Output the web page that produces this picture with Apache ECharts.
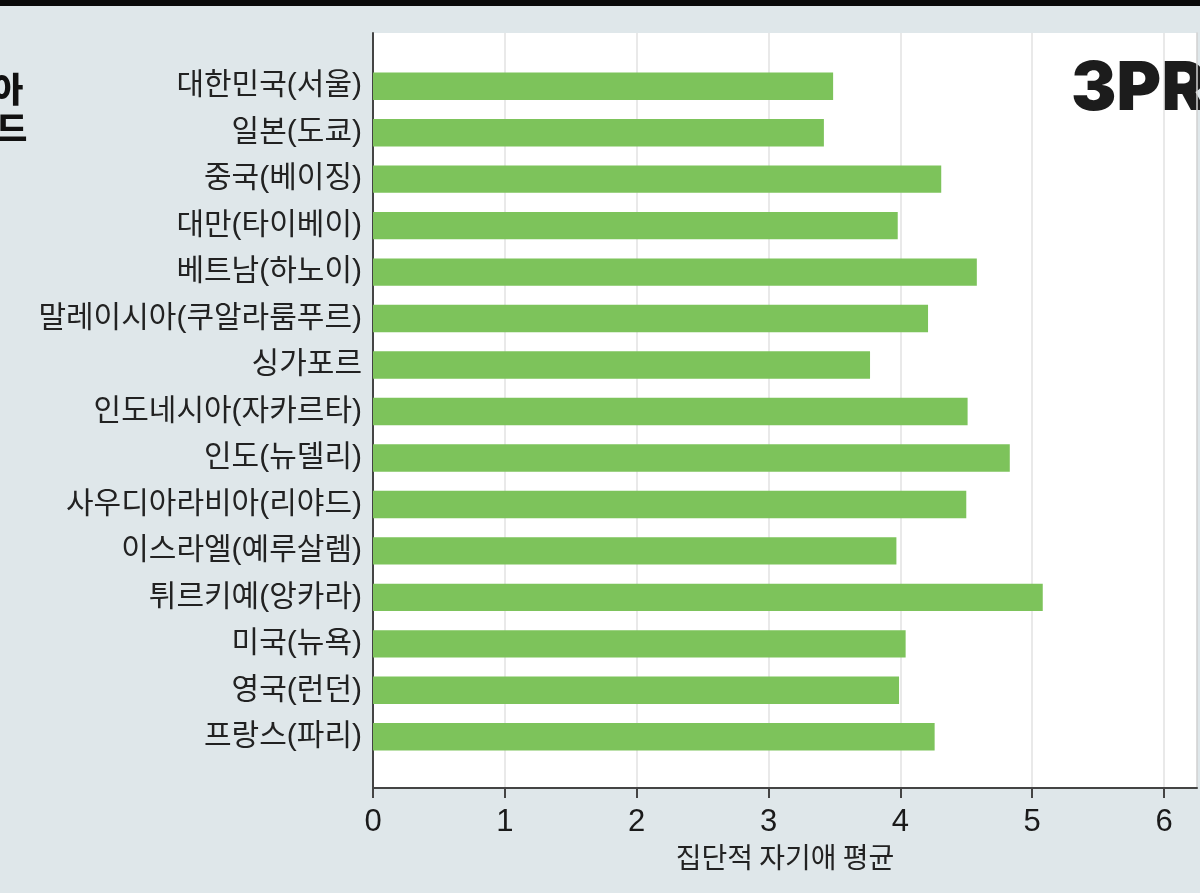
<!DOCTYPE html>
<html>
<head>
<meta charset="utf-8">
<script src="https://cdn.jsdelivr.net/npm/echarts@6/dist/echarts.min.js"></script>
<style>
html,body{margin:0;padding:0;background:#dfe7ea;}
#chart{width:1200px;height:893px;}
</style>
</head>
<body>
<div id="chart"></div>
<script>
const categories = [
  '대한민국(서울)', '일본(도쿄)', '중국(베이징)', '대만(타이베이)', '베트남(하노이)',
  '말레이시아(쿠알라룸푸르)', '싱가포르', '인도네시아(자카르타)', '인도(뉴델리)',
  '사우디아라비아(리야드)', '이스라엘(예루살렘)', '튀르키예(앙카라)', '미국(뉴욕)',
  '영국(런던)', '프랑스(파리)'
];
const values = [3.49, 3.42, 4.31, 3.98, 4.58, 4.21, 3.77, 4.51, 4.83, 4.50, 3.97, 5.08, 4.04, 3.99, 4.26];
const xTicks = [0, 1, 2, 3, 4, 5, 6];
const xAxisName = '집단적 자기애 평균';
const logoText = '3PRO';

const chart = echarts.init(document.getElementById('chart'), null, {renderer: 'canvas'});
const XMAX = 6.25;
const option = {
  backgroundColor: '#dfe7ea',
  animation: false,
  grid: [
    {left: 373, right: 3, top: 33, bottom: 105, show: true, backgroundColor: '#ffffff', borderWidth: 0},
    {left: 373, right: 3, top: 63, bottom: 133}
  ],
  xAxis: [
    {
      gridIndex: 0, type: 'value', min: 0, max: XMAX, interval: 1,
      name: xAxisName, nameLocation: 'middle', nameGap: 55,
      nameTextStyle: {fontSize: 28, color: '#222', fontFamily: 'Noto Sans CJK KR'},
      axisLine: {show: true, lineStyle: {color: '#444', width: 2}},
      axisTick: {show: true, length: 10, lineStyle: {color: '#444', width: 2}, customValues: xTicks},
      axisLabel: {fontSize: 31, color: '#1a1a1a', margin: 19, fontFamily: 'Liberation Sans', customValues: xTicks},
      splitLine: {show: true, lineStyle: {color: '#e2e2e2', width: 1.5}}
    },
    {gridIndex: 1, type: 'value', min: 0, max: XMAX, show: false}
  ],
  yAxis: [
    {
      gridIndex: 0, type: 'value', position: 'left',
      axisLine: {show: true, lineStyle: {color: '#444', width: 2}},
      axisTick: {show: false}, axisLabel: {show: false}, splitLine: {show: false}
    },
    {
      gridIndex: 0, type: 'value', position: 'right',
      axisLine: {show: true, lineStyle: {color: '#d0d0d0', width: 1.5}},
      axisTick: {show: false}, axisLabel: {show: false}, splitLine: {show: false}
    },
    {
      gridIndex: 1, type: 'category', inverse: true, data: categories,
      axisLine: {show: false}, axisTick: {show: false},
      axisLabel: {fontSize: 30, color: '#222', margin: 11, fontFamily: 'Liberation Sans, Noto Sans CJK KR'}
    }
  ],
  series: [{
    type: 'bar', xAxisIndex: 1, yAxisIndex: 2,
    data: values, barCategoryGap: '41%',
    itemStyle: {color: '#7dc35b'}
  }],
  graphic: [
    {type: 'rect', left: 0, top: 0, shape: {width: 1200, height: 6}, style: {fill: '#0a0a0a'}},
    {type: 'text', left: 1071, top: 56, style: {text: logoText, font: '900 68px Inter', fill: '#1c1c1c'}},
    {type: 'text', left: -8, top: 72, style: {text: '아', font: '900 34px "Noto Sans CJK KR"', fill: '#111'}},
    {type: 'text', left: -4, top: 111, style: {text: '드', font: '900 34px "Noto Sans CJK KR"', fill: '#111'}}
  ]
};
chart.setOption(option);
</script>
</body>
</html>
